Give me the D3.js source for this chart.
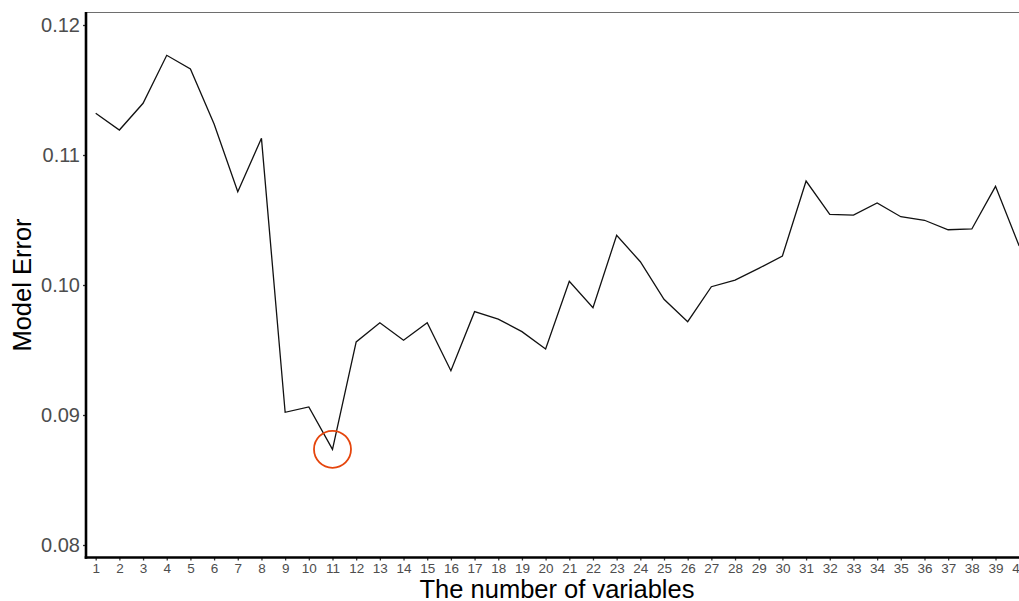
<!DOCTYPE html>
<html>
<head>
<meta charset="utf-8">
<script src="https://cdn.jsdelivr.net/npm/d3@7"></script>
<style>
  html, body { margin: 0; padding: 0; background: #fff; }
  svg { display: block; font-family: "Liberation Sans", Arial, sans-serif; }
</style>
</head>
<body>
<svg id="chart" width="1019" height="601"></svg>
<script>
// Number of variables kept in the model
const nVars = d3.range(1, 41);
// Cross-validated model error for each variable count
const modelError = [
  0.11321, 0.11192, 0.11398, 0.11767, 0.11662, 0.11238, 0.10718, 0.11128,
  0.09021, 0.09062, 0.08736, 0.09562, 0.09710, 0.09575, 0.09710, 0.09341,
  0.09795, 0.09738, 0.09641, 0.09508, 0.10028, 0.09825, 0.10382, 0.10179,
  0.09890, 0.09718, 0.09987, 0.10038, 0.10128, 0.10223, 0.10800, 0.10544,
  0.10538, 0.10631, 0.10525, 0.10498, 0.10425, 0.10431, 0.10759, 0.10300
];
const yTicks = [0.08, 0.09, 0.10, 0.11, 0.12];
const xTitle = "The number of variables";
const yTitle = "Model Error";

const svg = d3.select("#chart");

const panel = { left: 86, top: 12.5, bottom: 557.5, right: 1028 };

const x = d3.scaleLinear().domain([1, 40]).range([95.7, 1019.2]);
const y = d3.scaleLinear().domain([0.08, 0.12]).range([545, 25]);

// Top panel border
svg.append("line")
  .attr("x1", panel.left).attr("x2", panel.right)
  .attr("y1", panel.top).attr("y2", panel.top)
  .attr("stroke", "#6e6e6e").attr("stroke-width", 1.2);

// Data line
const line = d3.line()
  .x((d, i) => x(nVars[i]))
  .y(d => y(d));
svg.append("path")
  .datum(modelError)
  .attr("d", line)
  .attr("fill", "none")
  .attr("stroke", "#111")
  .attr("stroke-width", 1.3)
  .attr("stroke-linejoin", "miter");

// Highlight the minimum error
const minIdx = d3.minIndex(modelError);
svg.append("circle")
  .attr("cx", x(nVars[minIdx]))
  .attr("cy", y(modelError[minIdx]))
  .attr("r", 18.5)
  .attr("fill", "none")
  .attr("stroke", "#e5450c")
  .attr("stroke-width", 1.8);

// Y axis
const yAxis = d3.axisLeft(y)
  .tickValues(yTicks)
  .tickFormat(d3.format(".2f"))
  .tickSize(3)
  .tickPadding(3);
const gy = svg.append("g")
  .attr("transform", `translate(${panel.left},0)`)
  .call(yAxis);
gy.select(".domain").remove();
gy.selectAll(".tick line").attr("stroke", "#333").attr("stroke-width", 1.3);
gy.selectAll(".tick text")
  .attr("fill", "#4d4d4d")
  .attr("font-size", "20px");
svg.append("line")
  .attr("x1", panel.left).attr("x2", panel.left)
  .attr("y1", panel.top - 0.5).attr("y2", panel.bottom + 1.2)
  .attr("stroke", "#000").attr("stroke-width", 2.6);

// X axis
const xAxis = d3.axisBottom(x)
  .tickValues(nVars)
  .tickFormat(d3.format("d"))
  .tickSize(3)
  .tickPadding(3);
const gx = svg.append("g")
  .attr("transform", `translate(0,${panel.bottom})`)
  .call(xAxis);
gx.select(".domain").remove();
gx.selectAll(".tick line").attr("stroke", "#333").attr("stroke-width", 1.3);
gx.selectAll(".tick text")
  .attr("fill", "#4d4d4d")
  .attr("font-size", "13.5px");
svg.append("line")
  .attr("x1", panel.left - 1.3).attr("x2", panel.right)
  .attr("y1", panel.bottom).attr("y2", panel.bottom)
  .attr("stroke", "#000").attr("stroke-width", 2.6);

// Axis titles
svg.append("text")
  .attr("x", (panel.left + panel.right) / 2)
  .attr("y", 597.5)
  .attr("text-anchor", "middle")
  .attr("font-size", "25.5px")
  .attr("fill", "#000")
  .text(xTitle);

svg.append("text")
  .attr("transform", `translate(30.5,${(panel.top + panel.bottom) / 2}) rotate(-90)`)
  .attr("text-anchor", "middle")
  .attr("font-size", "25.5px")
  .attr("fill", "#000")
  .text(yTitle);
</script>
</body>
</html>
